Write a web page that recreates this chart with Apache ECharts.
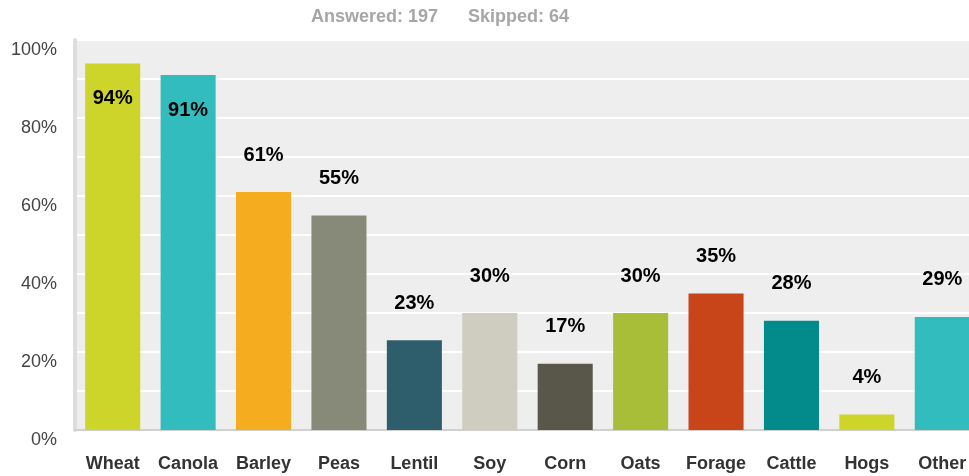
<!DOCTYPE html>
<html>
<head>
<meta charset="utf-8">
<script src="https://cdn.jsdelivr.net/npm/echarts@6/dist/echarts.min.js"></script>
<style>
html,body{margin:0;padding:0;background:#fff;}
#chart{width:969px;height:476px;}
</style>
</head>
<body>
<div id="chart"></div>
<script>
const categories = ['Wheat','Canola','Barley','Peas','Lentil','Soy','Corn','Oats','Forage','Cattle','Hogs','Other'];
const values = [94, 91, 61, 55, 23, 30, 17, 30, 35, 28, 4, 29];
const barColors = ['#cdd42a','#32bcbe','#f5ac1f','#878a78','#2e5e6b','#cfcdbf','#59574a','#a8bd38','#c8451a','#038a8a','#cdd42a','#32bcbe'];
const yTicks = [0, 20, 40, 60, 80, 100];
const answered = 197;
const skipped = 64;

const chart = echarts.init(document.getElementById('chart'), null, {renderer:'canvas'});
const font = 'Liberation Sans, Arial, sans-serif';

const data = values.map((v, i) => {
  const inside = v > 85;
  return {
    value: v,
    itemStyle: {color: barColors[i]},
    label: inside ? {position: 'insideTop', distance: 25} : {position: 'top', distance: 27}
  };
});

chart.setOption({
  animation: false,
  title: [
    {text: 'Answered: ' + answered, left: 311, top: 8, padding: 0,
     textStyle: {fontFamily: font, fontSize: 18, fontWeight: 'bold', color: '#a6a6a6'}},
    {text: 'Skipped: ' + skipped, left: 468, top: 8, padding: 0,
     textStyle: {fontFamily: font, fontSize: 18, fontWeight: 'bold', color: '#a6a6a6'}}
  ],
  grid: {left: 75, top: 40, right: -11, bottom: 46, show: true, backgroundColor: '#eeeeee', borderWidth: 0,
         containLabel: false, outerBoundsMode: 'none'},
  xAxis: {
    type: 'category',
    data: categories,
    axisTick: {show: false},
    axisLine: {show: true, lineStyle: {color: '#d0d0d0', width: 2}},
    axisLabel: {fontFamily: font, fontSize: 18, fontWeight: 'bold', color: '#333', margin: 25, interval: 0}
  },
  yAxis: {
    type: 'value',
    min: 0, max: 100, interval: 10,
    axisLine: {show: true, lineStyle: {color: '#dddddd', width: 4}},
    axisTick: {show: false},
    splitLine: {show: true, lineStyle: {color: '#ffffff', width: 2}},
    axisLabel: {
      fontFamily: font, fontSize: 18, color: '#444', margin: 18,
      verticalAlign: 'top', lineHeight: 20,
      formatter: v => yTicks.includes(v) ? v + '%' : ''
    }
  },
  series: [{
    type: 'bar',
    data: data,
    barCategoryGap: '27%',
    label: {
      show: true,
      fontFamily: font, fontSize: 20, fontWeight: 'bold', color: '#000',
      formatter: p => p.value + '%'
    }
  }]
});
</script>
</body>
</html>
